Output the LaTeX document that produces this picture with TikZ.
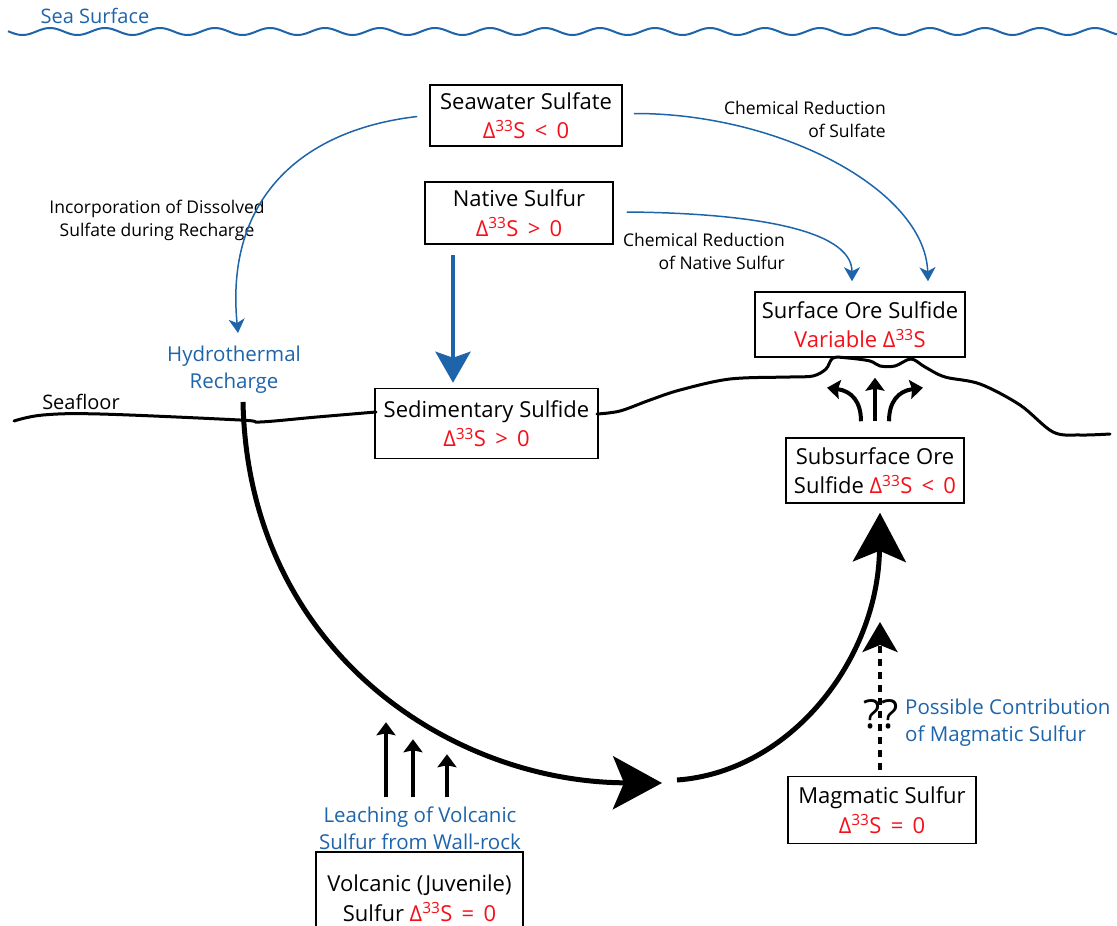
\documentclass[tikz,border=0pt]{standalone}
\usepackage{fontspec}
\setmainfont{Open Sans}
\usetikzlibrary{arrows.meta,calc}
\definecolor{oceanblue}{RGB}{30,100,170}
\definecolor{isored}{RGB}{245,15,25}
\newcommand{\dS}{Δ\textsuperscript{33}S}
\newcommand{\isorel}[2]{\dS\hspace{0.42em}#1\hspace{0.42em}#2}
\begin{document}
\begin{tikzpicture}[x=1pt,y=-1pt,
  box/.style={draw, line width=1.5pt, align=center, inner sep=0pt,
    font=\fontsize{22}{29.5}\selectfont},
  smalllbl/.style={inner sep=0pt, font=\fontsize{17.5}{23}\selectfont},
  bluelbl/.style={inner sep=0pt, align=center, text=oceanblue, font=\fontsize{20.5}{27}\selectfont},
  thinblue/.style={draw=oceanblue, line width=1.5pt, -{Stealth[length=14pt,width=16pt,inset=4pt]}},
  thickblue/.style={draw=oceanblue, line width=4pt, -{Stealth[length=31pt,width=35pt,inset=6pt]}},
  bigflow/.style={line width=5pt, -{Stealth[length=49pt,width=53pt,inset=11pt]}},
  upsmall/.style={line width=4pt, -{Stealth[length=13pt,width=19pt,inset=2pt]}},
  dottedflow/.style={line width=4pt, dash pattern=on 7pt off 6pt, -{Stealth[length=30pt,width=35pt,inset=7pt]}},
  seafloorline/.style={line width=3pt, line join=round, line cap=round},
]
\useasboundingbox (0,0) rectangle (1117,926);

% sea surface
\draw[oceanblue, line width=2pt] plot[domain=8:1117, samples=500] (\x, {31.5-3.5*cos((\x-50)*6.54545)});
\node[bluelbl, font=\fontsize{20}{23}\selectfont] (seasurf) at (95,16) {Sea Surface};

% boxes
\node[box, minimum width=192pt, minimum height=61pt] (sw) at (526,115.5)
  {Seawater Sulfate\\\textcolor{isored}{\isorel{<}{0}}};
\node[box, minimum width=188pt, minimum height=62pt] (ns) at (519,213)
  {Native Sulfur\\\textcolor{isored}{\isorel{>}{0}}};
\node[box, minimum width=210pt, minimum height=65pt] (sos) at (860,324.5)
  {Surface Ore Sulfide\\\textcolor{isored}{Variable \dS}};
\node[box, minimum width=223pt, minimum height=70pt, fill=white] (sed) at (486.5,423.5)
  {Sedimentary Sulfide\\\textcolor{isored}{\isorel{>}{0}}};
\node[box, minimum width=178pt, minimum height=65pt] (sub) at (875,470.5)
  {Subsurface Ore\\Sulfide \textcolor{isored}{\isorel{<}{0}}};
\node[box, minimum width=188pt, minimum height=67pt] (mag) at (882,810)
  {Magmatic Sulfur\\\textcolor{isored}{\isorel{=}{0}}};
\node[box, minimum width=207pt, minimum height=92pt] (vol) at (419.5,898)
  {Volcanic (Juvenile)\\Sulfur \textcolor{isored}{\isorel{=}{0}}};

% labels
\node[smalllbl, align=right, anchor=east] (lblcrs) at (886,119.5) {Chemical Reduction\\of Sulfate};
\node[smalllbl, align=center] (lblinc) at (157,220.5) {Incorporation of Dissolved\\Sulfate during Recharge};
\node[smalllbl, align=right, anchor=east] (lblcrn) at (785,251.5) {Chemical Reduction\\of Native Sulfur};
\node[bluelbl] (hr) at (234,369.5) {Hydrothermal\\Recharge};
\node[inner sep=0pt, font=\fontsize{20}{23}\selectfont] (sfl) at (81,402) {Seafloor};
\node[bluelbl] (leach) at (420,828) {Leaching of Volcanic\\Sulfur from Wall-rock};
\node[bluelbl, align=left, anchor=west] (poss) at (905,722.5) {Possible Contribution\\of Magmatic Sulfur};
\node[inner sep=0pt, font=\fontsize{40}{40}\selectfont] (qq) at (881,714) {??};

% seafloor line
\draw[seafloorline] plot[smooth, tension=0.6] coordinates
  {(14,421) (43,415) (100,414) (240,420) (260,422) (317,417) (376,412)};
\draw[seafloorline] plot[smooth, tension=0.55] coordinates
  {(597,414) (620,411) (650,400) (680,390) (730,379) (790,377) (813,376) (826,369) (833,358)
   (848,358) (870,361) (880,366) (895,366) (911,359) (925,367) (945,377) (980,384)
   (1020,405) (1053,432) (1080,435) (1110,434)};

% coordinates for free ends
\coordinate (hrtop) at (238,333);
\coordinate (rechargeTop) at (243,402);
\coordinate (flowMid) at (662,783);
\coordinate (flowMid2) at (677,780);
\coordinate (magtip) at (880,622);

% blue arrows
\draw[thinblue] ($(sw.west)+(-12,1)$) .. controls (300,130) and (225,200) .. (hrtop);
\draw[thinblue] ($(sw.east)+(11,-2)$) .. controls (780,113) and (925,190) .. ($(sos.north)+(68,-10)$);
\draw[thinblue] ($(ns.east)+(13,-1)$) .. controls (745,213) and (852,228) .. ($(sos.north)+(-8,-10)$);
\draw[thickblue] ($(ns.south)+(-66,10)$) -- ($(sed.north)+(-33.5,-5)$);

% main flow
\draw[bigflow] (rechargeTop) .. controls (248,650) and (450,782) .. (flowMid);
\draw[bigflow] (flowMid2) .. controls (790,772) and (878,660) .. ($(sub.south)+(5,9)$);
\draw[dottedflow] ($(mag.north)+(-2,-6)$) -- (magtip);

% leaching arrows
\draw[upsmall] ($(vol.north)+(-33.5,-54)$) -- ($(vol.north)+(-33.5,-129)$);
\draw[upsmall] ($(vol.north)+(-6.5,-54)$) -- ($(vol.north)+(-6.5,-112)$);
\draw[upsmall] ($(vol.north)+(27.5,-54)$) -- ($(vol.north)+(27.5,-97)$);

% surface venting arrows
\draw[upsmall] ($(sub.north)+(0,-16)$) -- ($(sos.south)+(15,20)$);
\draw[upsmall] ($(sub.north)+(-14,-16)$) .. controls (861,402) and (852,391) .. ($(sos.south)+(-33,30)$);
\draw[upsmall] ($(sub.north)+(14,-16)$) .. controls (889,402) and (898,391) .. ($(sos.south)+(63,30)$);
\end{tikzpicture}
\end{document}
